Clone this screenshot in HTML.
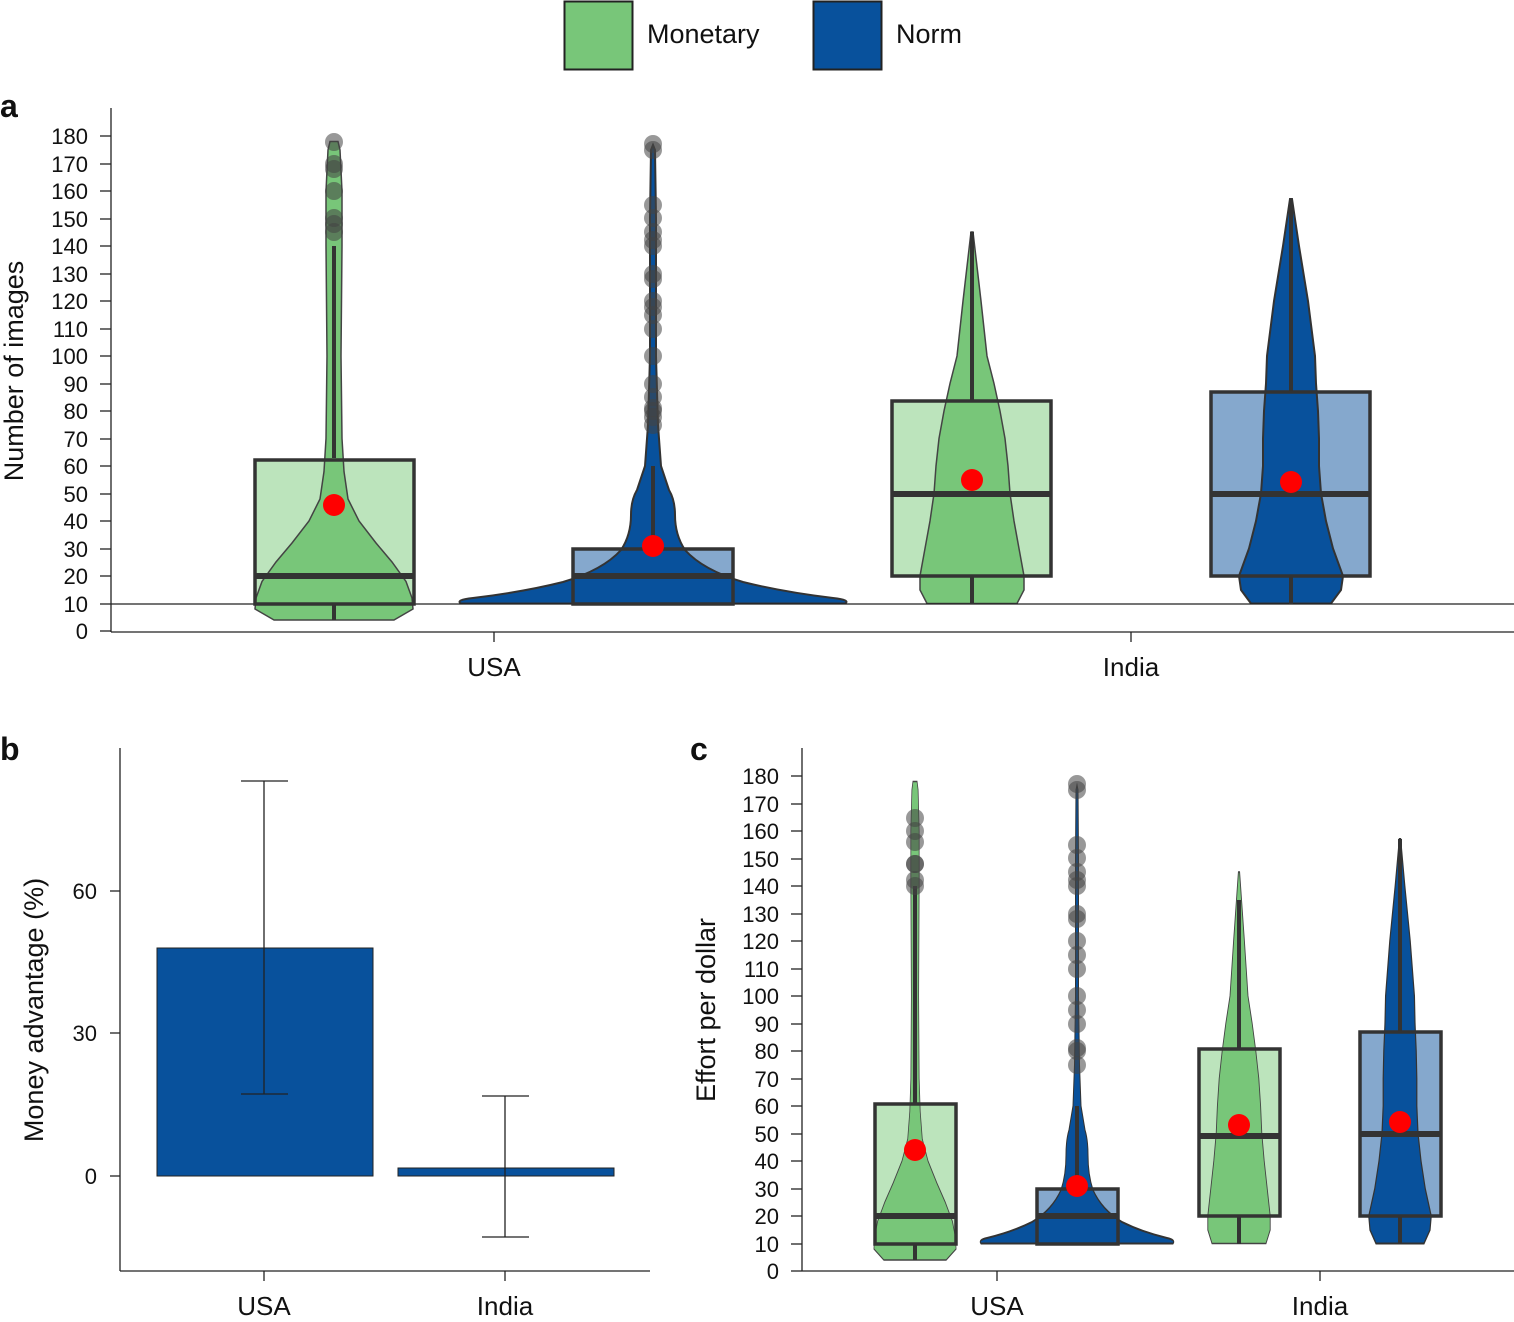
<!DOCTYPE html>
<html><head><style>body{margin:0;background:#fff}svg{display:block}text{font-family:"Liberation Sans",sans-serif;fill:#111}</style></head>
<body>
<svg width="1514" height="1322" xmlns="http://www.w3.org/2000/svg">
<defs>
<path id="vUM" d="M-60,620 L-79,609 -78,598 -72,581.5 -58,562 -42,543 -25,521 -14,499 -10,471.5 -8,438.5 -7,356 -8,246 -8,191 -6,150 -4,141.5 L4,141.5 6,150 8,191 8,246 7,356 8,438.5 10,471.5 14,499 25,521 42,543 58,562 72,581.5 78,598 79,609 60,620 Z"/>
<path id="vUN" d="M-192,603.5 Q-198,600 -180,598 Q-130,592 -90,582 Q-50,570 -32,550 Q-22,535 -22,515 Q-22,500 -16,490 L-8,466 -5,425 -3,356 -3,218.5 -2,150 0,145 2,150 3,218.5 3,356 5,425 8,466 L16,490 Q22,500 22,515 Q22,535 32,550 Q50,570 90,582 Q130,592 180,598 Q198,600 192,603.5 Z"/>
<path id="vIM" d="M-45,603.5 L-52,590 -52,576 -47,548.5 -42,521 -38,493.5 -36,466 -33,438.5 -28,411 -22,383.5 -15,356 -9,301 -1,232 1,232 9,301 15,356 22,383.5 28,411 33,438.5 36,466 38,493.5 42,521 47,548.5 52,576 52,590 45,603.5 Z"/>
<path id="vIN" d="M-40,603.5 L-50,590 -52,576 -42,548.5 -35,521 -30,493.5 -28,466 -28,438.5 -27,411 -25,383.5 -24,356 -17,301 -8,246 -1,199 1,199 8,246 17,301 24,356 25,383.5 27,411 28,438.5 28,466 30,493.5 35,521 42,548.5 52,576 50,590 40,603.5 Z"/>
</defs>
<!-- legend -->
<rect x="564.5" y="1.5" width="68" height="68" fill="#78c679" stroke="#222" stroke-width="2"/>
<text x="647" y="43" font-size="27">Monetary</text>
<rect x="813.5" y="1.5" width="68" height="68" fill="#08519c" stroke="#222" stroke-width="2"/>
<text x="896" y="43" font-size="27">Norm</text>

<!-- panel a -->
<text x="0" y="117" font-size="32" font-weight="bold">a</text>
<g stroke="#222" stroke-width="1.3">
<line x1="111" y1="108" x2="111" y2="632"/><line x1="111" y1="632" x2="1514" y2="632"/>
<line x1="494" y1="632" x2="494" y2="642"/><line x1="1131" y1="632" x2="1131" y2="642"/>
</g>
<g font-size="22" text-anchor="end">
<text x="88" y="639">0</text><text x="88" y="612">10</text><text x="88" y="584">20</text><text x="88" y="557">30</text><text x="88" y="529">40</text><text x="88" y="502">50</text><text x="88" y="474">60</text><text x="88" y="447">70</text><text x="88" y="419">80</text><text x="88" y="392">90</text><text x="88" y="364">100</text><text x="88" y="337">110</text><text x="88" y="309">120</text><text x="88" y="282">130</text><text x="88" y="254">140</text><text x="88" y="227">150</text><text x="88" y="199">160</text><text x="88" y="172">170</text><text x="88" y="144">180</text>
</g>
<g stroke="#222" stroke-width="1.3">
<line x1="100" y1="631" x2="111" y2="631"/><line x1="100" y1="604" x2="111" y2="604"/><line x1="100" y1="576" x2="111" y2="576"/><line x1="100" y1="549" x2="111" y2="549"/><line x1="100" y1="521" x2="111" y2="521"/><line x1="100" y1="494" x2="111" y2="494"/><line x1="100" y1="466" x2="111" y2="466"/><line x1="100" y1="439" x2="111" y2="439"/><line x1="100" y1="411" x2="111" y2="411"/><line x1="100" y1="384" x2="111" y2="384"/><line x1="100" y1="356" x2="111" y2="356"/><line x1="100" y1="329" x2="111" y2="329"/><line x1="100" y1="301" x2="111" y2="301"/><line x1="100" y1="274" x2="111" y2="274"/><line x1="100" y1="246" x2="111" y2="246"/><line x1="100" y1="219" x2="111" y2="219"/><line x1="100" y1="191" x2="111" y2="191"/><line x1="100" y1="164" x2="111" y2="164"/><line x1="100" y1="136" x2="111" y2="136"/>
</g>
<text transform="translate(23,371) rotate(-90)" font-size="27" text-anchor="middle">Number of images</text>
<text x="494" y="676" font-size="26" text-anchor="middle">USA</text>
<text x="1131" y="676" font-size="26" text-anchor="middle">India</text>

<g>
<rect x="255" y="460" width="159" height="144" fill="#bce4bc"/>
<rect x="573" y="549" width="160" height="55" fill="#85a8cd"/>
<rect x="892" y="401" width="159" height="175" fill="#bce4bc"/>
<rect x="1211" y="392" width="159" height="184" fill="#85a8cd"/>
<use href="#vUM" transform="translate(334,0)" fill="#78c679" stroke="#444" stroke-width="1.5"/>
<use href="#vUN" transform="translate(653,0)" fill="#08519c" stroke="#333" stroke-width="2"/>
<use href="#vIM" transform="translate(972,0)" fill="#78c679" stroke="#444" stroke-width="1.5"/>
<use href="#vIN" transform="translate(1291,0)" fill="#08519c" stroke="#333" stroke-width="2"/>
<line x1="111" y1="604" x2="1514" y2="604" stroke="#222" stroke-width="1.3"/>
<g stroke="#333" stroke-width="4">
<line x1="334" y1="458" x2="334" y2="246"/><line x1="334" y1="604" x2="334" y2="620"/>
<line x1="653" y1="549" x2="653" y2="466"/>
<line x1="972" y1="400" x2="972" y2="232"/><line x1="972" y1="576" x2="972" y2="604"/>
<line x1="1291" y1="392" x2="1291" y2="199"/><line x1="1291" y1="576" x2="1291" y2="604"/>
</g>
<g stroke="#333" stroke-width="3.5" fill="none">
<rect x="255" y="460" width="159" height="144"/>
<rect x="573" y="549" width="160" height="55"/>
<rect x="892" y="401" width="159" height="175"/>
<rect x="1211" y="392" width="159" height="184"/>
</g>
<g stroke="#333" stroke-width="6">
<line x1="256" y1="576" x2="413" y2="576"/><line x1="574" y1="576" x2="732" y2="576"/>
<line x1="893" y1="494" x2="1050" y2="494"/><line x1="1212" y1="494" x2="1369" y2="494"/>
</g>
<g fill="#444" fill-opacity="0.55">
<circle cx="334" cy="232" r="9"/><circle cx="334" cy="224" r="9"/><circle cx="334" cy="218" r="9"/><circle cx="334" cy="191" r="9"/><circle cx="334" cy="169" r="9"/><circle cx="334" cy="164" r="9"/><circle cx="334" cy="142" r="9"/>
<circle cx="653" cy="425" r="9"/><circle cx="653" cy="417" r="9"/><circle cx="653" cy="411" r="9"/><circle cx="653" cy="408" r="9"/><circle cx="653" cy="397" r="9"/><circle cx="653" cy="384" r="9"/><circle cx="653" cy="356" r="9"/><circle cx="653" cy="329" r="9"/><circle cx="653" cy="315" r="9"/><circle cx="653" cy="307" r="9"/><circle cx="653" cy="301" r="9"/><circle cx="653" cy="279" r="9"/><circle cx="653" cy="274" r="9"/><circle cx="653" cy="246" r="9"/><circle cx="653" cy="240" r="9"/><circle cx="653" cy="232" r="9"/><circle cx="653" cy="218" r="9"/><circle cx="653" cy="205" r="9"/><circle cx="653" cy="150" r="9"/><circle cx="653" cy="144" r="9"/>
</g>
<g fill="#ff0000">
<circle cx="334" cy="505" r="11"/><circle cx="653" cy="546" r="11"/><circle cx="972" cy="480" r="11"/><circle cx="1291" cy="482" r="11"/>
</g>
</g>

<!-- panel b -->
<text x="0" y="760" font-size="32" font-weight="bold">b</text>
<g stroke="#222" stroke-width="1.3">
<line x1="120" y1="748" x2="120" y2="1271"/><line x1="120" y1="1271" x2="650" y2="1271"/>
<line x1="110" y1="891" x2="120" y2="891"/><line x1="110" y1="1033" x2="120" y2="1033"/><line x1="110" y1="1176" x2="120" y2="1176"/>
<line x1="264" y1="1271" x2="264" y2="1281"/><line x1="505" y1="1271" x2="505" y2="1281"/>
</g>
<g font-size="22" text-anchor="end"><text x="97" y="899">60</text><text x="97" y="1041">30</text><text x="97" y="1184">0</text></g>
<text transform="translate(43,1010) rotate(-90)" font-size="27" text-anchor="middle">Money advantage (%)</text>
<rect x="157" y="948" width="216" height="228" fill="#08519c" stroke="#222" stroke-width="1"/>
<rect x="398" y="1168" width="216" height="8" fill="#08519c" stroke="#222" stroke-width="1"/>
<g stroke="#222" stroke-width="1.3">
<line x1="264" y1="781" x2="264" y2="1094"/><line x1="241" y1="781" x2="288" y2="781"/><line x1="241" y1="1094" x2="288" y2="1094"/>
<line x1="505" y1="1096" x2="505" y2="1237"/><line x1="482" y1="1096" x2="529" y2="1096"/><line x1="482" y1="1237" x2="529" y2="1237"/>
</g>
<text x="264" y="1315" font-size="26" text-anchor="middle">USA</text>
<text x="505" y="1315" font-size="26" text-anchor="middle">India</text>

<!-- panel c -->
<text x="690" y="760" font-size="32" font-weight="bold">c</text>
<g stroke="#222" stroke-width="1.3">
<line x1="802" y1="748" x2="802" y2="1271"/><line x1="802" y1="1271" x2="1514" y2="1271"/>
<line x1="997" y1="1271" x2="997" y2="1281"/><line x1="1320" y1="1271" x2="1320" y2="1281"/>
<line x1="791" y1="1271" x2="802" y2="1271"/><line x1="791" y1="1244" x2="802" y2="1244"/><line x1="791" y1="1216" x2="802" y2="1216"/><line x1="791" y1="1189" x2="802" y2="1189"/><line x1="791" y1="1161" x2="802" y2="1161"/><line x1="791" y1="1134" x2="802" y2="1134"/><line x1="791" y1="1106" x2="802" y2="1106"/><line x1="791" y1="1079" x2="802" y2="1079"/><line x1="791" y1="1051" x2="802" y2="1051"/><line x1="791" y1="1024" x2="802" y2="1024"/><line x1="791" y1="996" x2="802" y2="996"/><line x1="791" y1="969" x2="802" y2="969"/><line x1="791" y1="941" x2="802" y2="941"/><line x1="791" y1="914" x2="802" y2="914"/><line x1="791" y1="886" x2="802" y2="886"/><line x1="791" y1="859" x2="802" y2="859"/><line x1="791" y1="831" x2="802" y2="831"/><line x1="791" y1="804" x2="802" y2="804"/><line x1="791" y1="776" x2="802" y2="776"/>
</g>
<g font-size="22" text-anchor="end">
<text x="779" y="1279">0</text><text x="779" y="1252">10</text><text x="779" y="1224">20</text><text x="779" y="1197">30</text><text x="779" y="1169">40</text><text x="779" y="1142">50</text><text x="779" y="1114">60</text><text x="779" y="1087">70</text><text x="779" y="1059">80</text><text x="779" y="1032">90</text><text x="779" y="1004">100</text><text x="779" y="977">110</text><text x="779" y="949">120</text><text x="779" y="922">130</text><text x="779" y="894">140</text><text x="779" y="867">150</text><text x="779" y="839">160</text><text x="779" y="812">170</text><text x="779" y="784">180</text>
</g>
<text transform="translate(715,1010) rotate(-90)" font-size="27" text-anchor="middle">Effort per dollar</text>
<text x="997" y="1315" font-size="26" text-anchor="middle">USA</text>
<text x="1320" y="1315" font-size="26" text-anchor="middle">India</text>

<g transform="translate(0,640)">
<rect x="875" y="464" width="81" height="140" fill="#bce4bc"/>
<rect x="1037" y="549" width="81" height="55" fill="#85a8cd"/>
<rect x="1199" y="409" width="81" height="167" fill="#bce4bc"/>
<rect x="1360" y="392" width="81" height="184" fill="#85a8cd"/>
<use href="#vUM" transform="translate(915,0) scale(0.52,1)" fill="#78c679" stroke="#444" stroke-width="1.5" vector-effect="non-scaling-stroke"/>
<use href="#vUN" transform="translate(1077,0) scale(0.5,1)" fill="#08519c" stroke="#333" stroke-width="2" vector-effect="non-scaling-stroke"/>
<use href="#vIM" transform="translate(1239,0) scale(0.6,1)" fill="#78c679" stroke="#444" stroke-width="1.5" vector-effect="non-scaling-stroke"/>
<use href="#vIN" transform="translate(1400,0) scale(0.6,1)" fill="#08519c" stroke="#333" stroke-width="2" vector-effect="non-scaling-stroke"/>
<g stroke="#333" stroke-width="4">
<line x1="915" y1="463" x2="915" y2="246"/><line x1="915" y1="604" x2="915" y2="620"/>
<line x1="1077" y1="549" x2="1077" y2="466"/>
<line x1="1239" y1="409" x2="1239" y2="260"/><line x1="1239" y1="576" x2="1239" y2="604"/>
<line x1="1400" y1="392" x2="1400" y2="199"/><line x1="1400" y1="576" x2="1400" y2="604"/>
</g>
<g stroke="#333" stroke-width="3.5" fill="none">
<rect x="875" y="464" width="81" height="140"/>
<rect x="1037" y="549" width="81" height="55"/>
<rect x="1199" y="409" width="81" height="167"/>
<rect x="1360" y="392" width="81" height="184"/>
</g>
<g stroke="#333" stroke-width="6">
<line x1="876" y1="576" x2="955" y2="576"/><line x1="1038" y1="576" x2="1117" y2="576"/>
<line x1="1200" y1="496" x2="1279" y2="496"/><line x1="1361" y1="494" x2="1440" y2="494"/>
</g>
<g fill="#444" fill-opacity="0.55">
<circle cx="915" cy="246" r="9"/><circle cx="915" cy="240" r="9"/><circle cx="915" cy="224" r="9"/><circle cx="915" cy="224" r="9"/><circle cx="915" cy="202" r="9"/><circle cx="915" cy="191" r="9"/><circle cx="915" cy="178" r="9"/>
<circle cx="1077" cy="425" r="9"/><circle cx="1077" cy="411" r="9"/><circle cx="1077" cy="408" r="9"/><circle cx="1077" cy="384" r="9"/><circle cx="1077" cy="370" r="9"/><circle cx="1077" cy="356" r="9"/><circle cx="1077" cy="329" r="9"/><circle cx="1077" cy="315" r="9"/><circle cx="1077" cy="301" r="9"/><circle cx="1077" cy="279" r="9"/><circle cx="1077" cy="274" r="9"/><circle cx="1077" cy="246" r="9"/><circle cx="1077" cy="240" r="9"/><circle cx="1077" cy="232" r="9"/><circle cx="1077" cy="218" r="9"/><circle cx="1077" cy="205" r="9"/><circle cx="1077" cy="150" r="9"/><circle cx="1077" cy="144" r="9"/>
</g>
<g fill="#ff0000">
<circle cx="915" cy="510" r="11"/><circle cx="1077" cy="546" r="11"/><circle cx="1239" cy="485" r="11"/><circle cx="1400" cy="482" r="11"/>
</g>
</g>
</svg>
</body></html>
